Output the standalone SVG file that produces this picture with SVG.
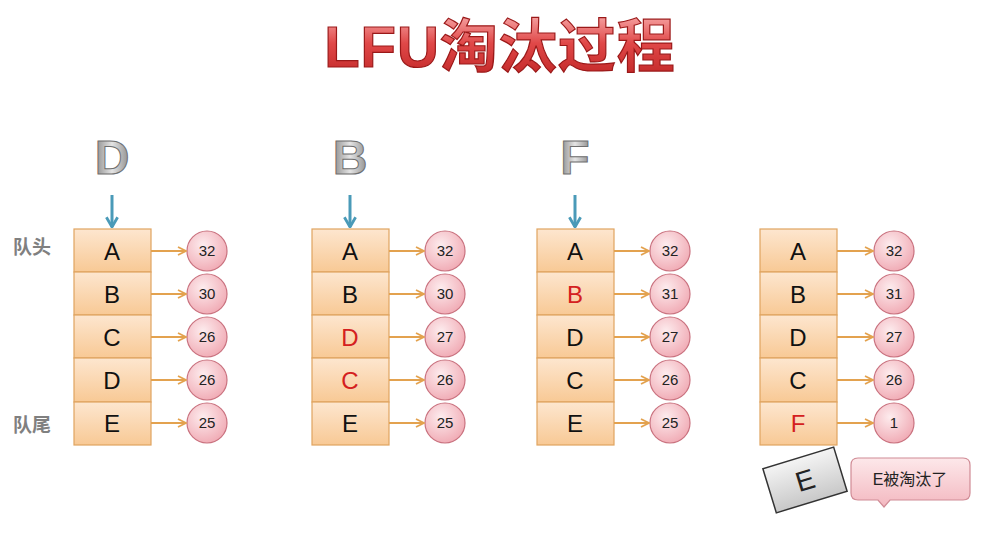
<svg xmlns="http://www.w3.org/2000/svg" width="1000" height="541" viewBox="0 0 1000 541">
<defs>
<linearGradient id="boxg" x1="0" y1="0" x2="0" y2="1">
<stop offset="0" stop-color="#fde6cf"/><stop offset="1" stop-color="#f8c995"/>
</linearGradient>
<radialGradient id="cirg" cx="0.4" cy="0.35" r="0.7">
<stop offset="0" stop-color="#fdecee"/><stop offset="1" stop-color="#f0a9b3"/>
</radialGradient>
<linearGradient id="titg" x1="0" y1="0" x2="0" y2="1">
<stop offset="0" stop-color="#f7a8a8"/><stop offset="0.45" stop-color="#e04848"/><stop offset="1" stop-color="#c02626"/>
</linearGradient>
<linearGradient id="letg" x1="0" y1="0" x2="1" y2="0">
<stop offset="0" stop-color="#8a8a8a"/><stop offset="0.5" stop-color="#e4e4e4"/><stop offset="1" stop-color="#8f8f8f"/>
</linearGradient>
<linearGradient id="eg" x1="0" y1="0" x2="0" y2="1">
<stop offset="0" stop-color="#f4f4f4"/><stop offset="1" stop-color="#c8c8c8"/>
</linearGradient>
<linearGradient id="callg" x1="0" y1="0" x2="0" y2="1">
<stop offset="0" stop-color="#fde8ea"/><stop offset="1" stop-color="#f3b8c0"/>
</linearGradient>
<marker id="oa" viewBox="0 0 10 10" refX="9" refY="5" markerWidth="10" markerHeight="10" markerUnits="userSpaceOnUse" orient="auto">
<path d="M1,1 L9,5 L1,9" fill="none" stroke="#e3a24f" stroke-width="1.8"/>
</marker>
<marker id="ba" viewBox="0 0 10 10" refX="9" refY="5" markerWidth="14" markerHeight="14" markerUnits="userSpaceOnUse" orient="auto">
<path d="M2,1 L9,5 L2,9" fill="none" stroke="#4a9ab8" stroke-width="2"/>
</marker>
</defs>
<style>
.box{fill:url(#boxg);stroke:#e0a460;stroke-width:1.2}
.cir{fill:url(#cirg);stroke:#c9727f;stroke-width:1.2}
.bt{font-family:"Liberation Sans",Arial,sans-serif;font-size:24px;fill:#111;text-anchor:middle}
.red{fill:#d42020}
.ct{font-family:"Liberation Sans",Arial,sans-serif;font-size:15px;fill:#222;text-anchor:middle}
.oc{stroke:#e3a24f;stroke-width:2;fill:none}
.bc{stroke:#4a9ab8;stroke-width:3;fill:none}
.lab{font-family:"Noto Sans CJK SC","Noto Sans",sans-serif;font-size:19px;font-weight:bold;fill:#808080}
.big{font-family:"Liberation Sans",Arial,sans-serif;font-size:48px;font-weight:bold;fill:url(#letg);stroke:#6f6f6f;stroke-width:1;text-anchor:middle}
</style>
<rect width="1000" height="541" fill="#ffffff"/>
<g id="title">
<text x="500" y="67" text-anchor="middle" font-family="'Liberation Sans','Noto Sans CJK SC',sans-serif" font-size="58" font-weight="bold" fill="url(#titg)" stroke="#9a1818" stroke-width="1.2" letter-spacing="1">LFU淘汰过程</text>
</g>
<g id="labels">
<text class="lab" x="13" y="254">队头</text>
<text class="lab" x="13" y="432">队尾</text>
</g>
<g id="incoming">
<text class="big" x="112" y="174">D</text>
<text class="big" x="350" y="174">B</text>
<text class="big" x="575" y="174">F</text>
</g>
<g id="col1">
<rect class="box" x="74" y="229" width="77" height="43"/>
<rect class="box" x="74" y="272" width="77" height="43"/>
<rect class="box" x="74" y="315" width="77" height="43"/>
<rect class="box" x="74" y="358" width="77" height="44"/>
<rect class="box" x="74" y="402" width="77" height="43"/>
<text class="bt" x="112" y="260">A</text><text class="bt" x="112" y="303">B</text><text class="bt" x="112" y="346">C</text><text class="bt" x="112" y="389">D</text><text class="bt" x="112" y="432">E</text>
<circle class="cir" cx="207" cy="251" r="20"/><circle class="cir" cx="207" cy="294" r="20"/><circle class="cir" cx="207" cy="337" r="20"/><circle class="cir" cx="207" cy="380" r="20"/><circle class="cir" cx="207" cy="423" r="20"/>
<text class="ct" x="207" y="256">32</text><text class="ct" x="207" y="299">30</text><text class="ct" x="207" y="342">26</text><text class="ct" x="207" y="385">26</text><text class="ct" x="207" y="428">25</text>
</g>
<g id="col2">
<rect class="box" x="312" y="229" width="77" height="43"/>
<rect class="box" x="312" y="272" width="77" height="43"/>
<rect class="box" x="312" y="315" width="77" height="43"/>
<rect class="box" x="312" y="358" width="77" height="44"/>
<rect class="box" x="312" y="402" width="77" height="43"/>
<text class="bt" x="350" y="260">A</text><text class="bt" x="350" y="303">B</text><text class="bt red" x="350" y="346">D</text><text class="bt red" x="350" y="389">C</text><text class="bt" x="350" y="432">E</text>
<circle class="cir" cx="445" cy="251" r="20"/><circle class="cir" cx="445" cy="294" r="20"/><circle class="cir" cx="445" cy="337" r="20"/><circle class="cir" cx="445" cy="380" r="20"/><circle class="cir" cx="445" cy="423" r="20"/>
<text class="ct" x="445" y="256">32</text><text class="ct" x="445" y="299">30</text><text class="ct" x="445" y="342">27</text><text class="ct" x="445" y="385">26</text><text class="ct" x="445" y="428">25</text>
</g>
<g id="col3">
<rect class="box" x="537" y="229" width="77" height="43"/>
<rect class="box" x="537" y="272" width="77" height="43"/>
<rect class="box" x="537" y="315" width="77" height="43"/>
<rect class="box" x="537" y="358" width="77" height="44"/>
<rect class="box" x="537" y="402" width="77" height="43"/>
<text class="bt" x="575" y="260">A</text><text class="bt red" x="575" y="303">B</text><text class="bt" x="575" y="346">D</text><text class="bt" x="575" y="389">C</text><text class="bt" x="575" y="432">E</text>
<circle class="cir" cx="670" cy="251" r="20"/><circle class="cir" cx="670" cy="294" r="20"/><circle class="cir" cx="670" cy="337" r="20"/><circle class="cir" cx="670" cy="380" r="20"/><circle class="cir" cx="670" cy="423" r="20"/>
<text class="ct" x="670" y="256">32</text><text class="ct" x="670" y="299">31</text><text class="ct" x="670" y="342">27</text><text class="ct" x="670" y="385">26</text><text class="ct" x="670" y="428">25</text>
</g>
<g id="col4">
<rect class="box" x="760" y="229" width="77" height="43"/>
<rect class="box" x="760" y="272" width="77" height="43"/>
<rect class="box" x="760" y="315" width="77" height="43"/>
<rect class="box" x="760" y="358" width="77" height="44"/>
<rect class="box" x="760" y="402" width="77" height="43"/>
<text class="bt" x="798" y="260">A</text><text class="bt" x="798" y="303">B</text><text class="bt" x="798" y="346">D</text><text class="bt" x="798" y="389">C</text><text class="bt red" x="798" y="432">F</text>
<circle class="cir" cx="894" cy="251" r="20"/><circle class="cir" cx="894" cy="294" r="20"/><circle class="cir" cx="894" cy="337" r="20"/><circle class="cir" cx="894" cy="380" r="20"/><circle class="cir" cx="894" cy="423" r="20"/>
<text class="ct" x="894" y="256">32</text><text class="ct" x="894" y="299">31</text><text class="ct" x="894" y="342">27</text><text class="ct" x="894" y="385">26</text><text class="ct" x="894" y="428">1</text>
</g>
<g id="evicted">
<g transform="translate(805,480) rotate(-17)">
<rect x="-37" y="-23" width="74" height="46" fill="url(#eg)" stroke="#333" stroke-width="1.5"/>
<text x="0" y="10" text-anchor="middle" font-family="'Liberation Sans',Arial,sans-serif" font-size="28" fill="#222">E</text>
</g>
</g>
<g id="callout">
<path d="M858,458 H963 Q970,458 970,465 V493 Q970,500 963,500 H890 L884,507 L878,500 H858 Q851,500 851,493 V465 Q851,458 858,458 Z" fill="url(#callg)" stroke="#d08b95" stroke-width="1.2"/>
<text x="910" y="485" text-anchor="middle" font-family="'Liberation Sans','Noto Sans CJK SC',sans-serif" font-size="16" fill="#222">E被淘汰了</text>
</g>
<g id="connectors">
<line class="bc" x1="112" y1="195" x2="112" y2="227" marker-end="url(#ba)"/>
<line class="bc" x1="350" y1="195" x2="350" y2="227" marker-end="url(#ba)"/>
<line class="bc" x1="575" y1="195" x2="575" y2="227" marker-end="url(#ba)"/>
<line class="oc" x1="151" y1="251" x2="186" y2="251" marker-end="url(#oa)"/>
<line class="oc" x1="151" y1="294" x2="186" y2="294" marker-end="url(#oa)"/>
<line class="oc" x1="151" y1="337" x2="186" y2="337" marker-end="url(#oa)"/>
<line class="oc" x1="151" y1="380" x2="186" y2="380" marker-end="url(#oa)"/>
<line class="oc" x1="151" y1="423" x2="186" y2="423" marker-end="url(#oa)"/>
<line class="oc" x1="389" y1="251" x2="424" y2="251" marker-end="url(#oa)"/>
<line class="oc" x1="389" y1="294" x2="424" y2="294" marker-end="url(#oa)"/>
<line class="oc" x1="389" y1="337" x2="424" y2="337" marker-end="url(#oa)"/>
<line class="oc" x1="389" y1="380" x2="424" y2="380" marker-end="url(#oa)"/>
<line class="oc" x1="389" y1="423" x2="424" y2="423" marker-end="url(#oa)"/>
<line class="oc" x1="614" y1="251" x2="649" y2="251" marker-end="url(#oa)"/>
<line class="oc" x1="614" y1="294" x2="649" y2="294" marker-end="url(#oa)"/>
<line class="oc" x1="614" y1="337" x2="649" y2="337" marker-end="url(#oa)"/>
<line class="oc" x1="614" y1="380" x2="649" y2="380" marker-end="url(#oa)"/>
<line class="oc" x1="614" y1="423" x2="649" y2="423" marker-end="url(#oa)"/>
<line class="oc" x1="837" y1="251" x2="873" y2="251" marker-end="url(#oa)"/>
<line class="oc" x1="837" y1="294" x2="873" y2="294" marker-end="url(#oa)"/>
<line class="oc" x1="837" y1="337" x2="873" y2="337" marker-end="url(#oa)"/>
<line class="oc" x1="837" y1="380" x2="873" y2="380" marker-end="url(#oa)"/>
<line class="oc" x1="837" y1="423" x2="873" y2="423" marker-end="url(#oa)"/>
</g>
</svg>
